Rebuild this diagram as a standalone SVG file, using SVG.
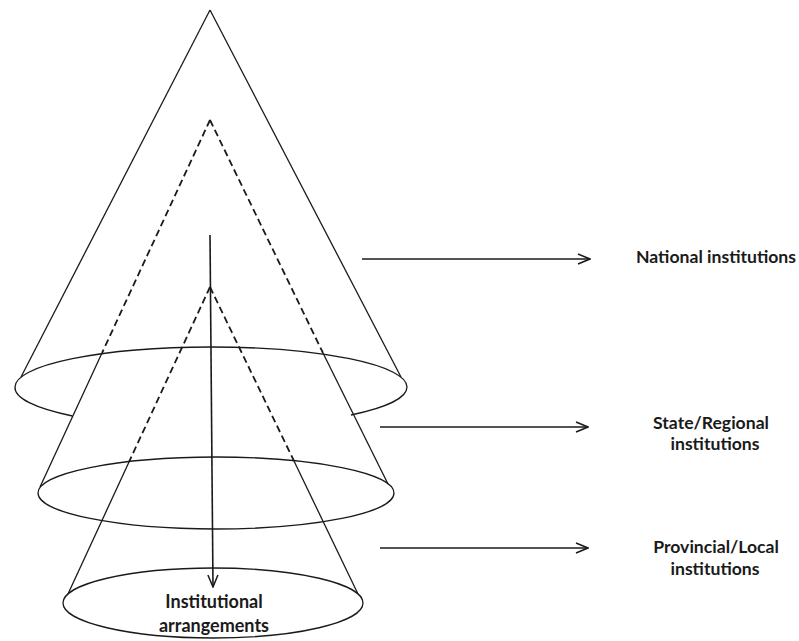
<svg xmlns="http://www.w3.org/2000/svg" width="799" height="641" viewBox="0 0 799 641">
  <defs>
    <style>
      .edge { fill: none; stroke: #1a1a1a; stroke-width: 1.3; }
      .hidden { fill: none; stroke: #1a1a1a; stroke-width: 1.8; stroke-dasharray: 7 4; }
      .arrow { fill: none; stroke: #1a1a1a; stroke-width: 1.6; }
      .label { font-family: "Lato", "Liberation Sans", sans-serif; font-weight: 700; font-size: 17.6px; fill: #1a1a1a; text-anchor: middle; }
    </style>
    <marker id="open-head" viewBox="0 0 14 12" refX="13" refY="6" markerWidth="14" markerHeight="12" markerUnits="userSpaceOnUse" orient="auto">
      <path d="M1,1 L13,6 L1,11" fill="none" stroke="#1a1a1a" stroke-width="1.5"/>
    </marker>
  </defs>

  <rect width="799" height="641" fill="#ffffff"/>

  <!-- Outer cone: national level -->
  <g id="cone-national">
    <line class="edge" x1="210" y1="10" x2="21" y2="377"/>
    <line class="edge" x1="210" y1="10" x2="401" y2="377"/>
    <!-- base rim: full top arc, bottom arc hidden behind the middle cone -->
    <path class="edge" d="M15,387 A196,40 0 0 1 407,387"/>
    <path class="edge" d="M15,387 A196,40 0 0 0 72.5,416"/>
    <path class="edge" d="M351,415 A196,40 0 0 0 407,387"/>
  </g>

  <!-- Middle cone: state / regional level -->
  <g id="cone-state">
    <line class="hidden" x1="210" y1="120" x2="102" y2="353"/>
    <line class="hidden" x1="210" y1="120" x2="323" y2="353"/>
    <line class="edge" x1="102" y1="353" x2="40" y2="487"/>
    <line class="edge" x1="323" y1="353" x2="388" y2="484"/>
    <ellipse class="edge" cx="216" cy="493" rx="178" ry="36"/>
  </g>

  <!-- Inner cone: provincial / local level -->
  <g id="cone-local">
    <line class="hidden" x1="210" y1="287" x2="129" y2="462"/>
    <line class="hidden" x1="210" y1="287" x2="294" y2="461"/>
    <line class="edge" x1="129" y1="462" x2="68" y2="594"/>
    <line class="edge" x1="294" y1="461" x2="358" y2="594"/>
    <ellipse class="edge" cx="213" cy="603" rx="150" ry="35"/>
  </g>

  <!-- Connectors -->
  <g id="connectors">
    <line class="arrow" x1="210" y1="235" x2="213" y2="587" marker-end="url(#open-head)"/>
    <line class="arrow" x1="362" y1="259" x2="590" y2="259" marker-end="url(#open-head)"/>
    <line class="arrow" x1="380" y1="427" x2="588" y2="427" marker-end="url(#open-head)"/>
    <line class="arrow" x1="380" y1="548" x2="588" y2="548" marker-end="url(#open-head)"/>
  </g>

  <!-- Labels -->
  <g id="label-national">
    <text class="label" x="716" y="263">National institutions</text>
  </g>
  <g id="label-state">
    <text class="label" x="711" y="429">State/Regional</text>
    <text class="label" x="715" y="450">institutions</text>
  </g>
  <g id="label-local">
    <text class="label" x="716" y="553">Provincial/Local</text>
    <text class="label" x="715" y="575">institutions</text>
  </g>
  <g id="label-arrangements">
    <text class="label" x="214" y="608" style="font-size:18px">Institutional</text>
    <text class="label" x="214" y="632" style="font-size:18px">arrangements</text>
  </g>
</svg>
